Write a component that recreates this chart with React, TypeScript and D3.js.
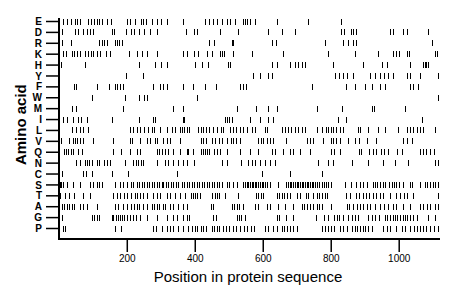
import React from "react";
import * as d3 from "d3";

const aminoAcids = ["E","D","R","K","H","Y","F","W","M","I","L","V","Q","N","C","S","T","A","G","P"];
const xTicks = [200, 400, 600, 800, 1000];
const proteinLength = 1120;

const posE = [10,22,34,46,53,61,85,92,102,110,117,126,141,151,198,207,222,239,247,254,272,286,298,316,363,429,441,453,463,478,492,502,517,541,546,551,561,576,639,732,828];
const posD = [7,46,56,71,82,90,98,154,161,196,210,220,235,249,267,286,373,396,406,473,526,615,654,694,828,838,857,865,873,973,981,1012,1024,1085];
const posR = [7,34,118,125,131,139,164,171,176,184,441,455,507,510,625,637,781,834,850,863,873,1095];
const posK = [10,20,36,43,51,61,75,85,92,100,110,120,137,149,206,229,242,257,286,365,375,396,409,435,448,473,478,484,512,566,659,791,870,938,981,990,1000,1022,1029,1105,1110];
const posH = [5,76,235,281,299,316,399,419,438,497,502,625,639,680,694,703,713,723,806,894,948,963,1031,1071,1076,1080,1085];
const posY = [196,245,569,590,615,625,811,824,835,847,865,914,929,943,955,968,982,1022,1031,1061,1115];
const posF = [43,49,110,147,164,171,179,186,275,296,306,316,363,392,429,461,531,541,549,742,843,870,899,919,943,958,1031,1041,1056];
const posW = [95,193,235,249,257,404,1115];
const posM = [36,49,188,334,363,524,578,615,641,759,831,919,926,1017];
const posI = [10,24,39,56,63,82,154,235,275,281,363,368,487,493,500,508,561,590,615,628,821,843,1066];
const posL = [36,49,61,71,85,208,218,228,237,249,262,272,278,296,316,331,340,355,360,367,375,382,409,416,424,431,441,451,463,475,482,502,510,520,531,541,551,566,576,605,612,654,664,674,683,693,703,713,723,757,772,784,791,798,806,814,825,834,879,886,909,938,958,997,1022,1031,1041,1051,1061,1071,1105];
const posV = [4,29,39,46,53,61,71,100,159,208,213,237,257,267,281,286,306,316,326,355,416,424,431,448,458,471,478,492,504,510,520,531,585,592,600,612,620,629,667,728,739,747,776,798,806,814,825,850,870,882,906,933,1010,1022,1039];
const posQ = [14,20,26,34,41,56,66,159,181,208,228,237,286,294,301,311,321,335,355,375,379,394,416,422,429,434,441,455,463,473,492,531,561,585,625,634,659,680,688,708,737,798,808,825,882,889,912,923,933,945,955,968,994,1007,1061,1071,1080,1090,1102];
const posN = [49,61,76,82,88,95,110,118,131,139,149,193,218,226,232,239,247,286,311,321,335,350,363,376,396,478,492,534,556,566,576,590,605,620,634,762,791,806,860,909,953,987,1026,1105,1115];
const posC = [7,71,79,95,154,203,345,595,678,772];
const posS = [1,4,10,22,41,61,90,100,110,118,125,164,179,188,198,210,218,228,235,242,249,257,265,272,279,286,294,301,306,314,321,328,335,343,350,360,367,375,382,389,396,404,412,419,426,434,441,448,455,463,471,478,492,500,512,524,541,546,551,556,561,566,571,576,580,585,590,595,600,605,612,620,644,667,673,678,683,688,693,698,703,708,713,718,723,728,732,737,742,747,752,757,765,772,778,784,791,798,840,857,873,884,892,906,922,929,935,943,951,958,971,978,984,992,1000,1012,1031,1039,1061,1076,1082,1090,1098,1105,1113];
const posT = [1,17,29,43,71,90,159,169,179,190,198,210,223,229,237,245,257,276,286,296,316,326,340,355,369,386,392,399,404,414,448,458,465,471,487,526,579,585,592,600,639,647,654,661,669,678,698,708,726,732,745,757,765,772,781,788,843,855,873,882,894,902,912,923,933,943,953,973,992,1002,1014,1022,1041,1115];
const posA = [7,14,22,29,36,43,61,69,82,110,164,174,186,198,210,220,228,235,247,257,272,279,286,294,304,311,326,335,350,365,375,445,453,507,514,522,529,541,576,585,610,620,644,664,688,713,720,728,737,747,757,765,772,798,845,853,865,875,884,894,904,914,929,943,955,968,981,992,1012,1031,1061,1071,1082,1090,1105,1115];
const posG = [7,95,102,110,118,154,159,167,174,179,184,190,198,208,216,226,237,257,286,316,335,347,363,375,382,453,461,522,529,536,546,639,647,667,688,755,778,791,808,816,823,835,850,860,870,879,909,919,929,941,958,965,973,981,987,994,1002,1010,1017,1024,1031,1041,1051,1085,1105];
const posP = [10,17,164,181,276,284,301,316,326,335,350,363,379,389,399,406,416,424,431,448,455,463,471,481,490,500,510,520,531,543,551,563,573,605,615,629,639,654,661,669,678,688,698,772,781,791,798,808,825,834,845,860,870,876,884,892,899,909,919,951,963,973,992,1007,1017,1031,1043,1053,1061,1071,1080,1090,1102,1115];

const positionsByAA: Record<string, number[]> = {
  E: posE, D: posD, R: posR, K: posK, H: posH, Y: posY, F: posF, W: posW, M: posM, I: posI,
  L: posL, V: posV, Q: posQ, N: posN, C: posC, S: posS, T: posT, A: posA, G: posG, P: posP,
};

export default function App() {
  const width = 460;
  const height = 299;
  const x = d3.scaleLinear().domain([0, proteinLength]).range([59.3, 440]);
  const y = d3.scalePoint<string>().domain(aminoAcids).range([21.5, 228.5]);
  const axisY = 239;
  const font = "'Liberation Sans', Arial, Helvetica, sans-serif";

  return (
    <svg width={width} height={height} style={{ position: "absolute", left: 0, top: 0, background: "#fff" }}>
      <rect x={0} y={0} width={width} height={height} fill="#fff" />
      <g stroke="#000" strokeWidth={1} shapeRendering="crispEdges">
        {aminoAcids.map((aa) =>
          positionsByAA[aa].map((p, i) => {
            const px = Math.round(x(p)) + 0.5;
            const cy = y(aa) as number;
            return <line key={aa + i} x1={px} x2={px} y1={cy - 3} y2={cy + 3} />;
          })
        )}
      </g>
      <line x1={59} x2={59} y1={18} y2={axisY + 1} stroke="#000" strokeWidth={2} />
      {aminoAcids.map((aa) => {
        const cy = y(aa) as number;
        return (
          <g key={"yl" + aa}>
            <line x1={46} x2={59} y1={cy} y2={cy} stroke="#000" strokeWidth={1.5} />
            <text x={42} y={cy} dy="0.36em" textAnchor="end" fontFamily={font} fontSize={10} fontWeight="bold">{aa}</text>
          </g>
        );
      })}
      <line x1={58} x2={440} y1={axisY} y2={axisY} stroke="#000" strokeWidth={2} />
      {xTicks.map((t) => (
        <g key={"xt" + t}>
          <line x1={x(t)} x2={x(t)} y1={axisY} y2={axisY + 13} stroke="#000" strokeWidth={1.5} />
          <text x={x(t)} y={axisY + 22.5} textAnchor="middle" fontFamily={font} fontSize={10}>{t}</text>
        </g>
      ))}
      <text x={248} y={282} textAnchor="middle" fontFamily={font} fontSize={15}>Position in protein sequence</text>
      <text transform="translate(26,124.7) rotate(-90)" textAnchor="middle" fontFamily={font} fontSize={15} fontWeight="bold">Amino acid</text>
    </svg>
  );
}
